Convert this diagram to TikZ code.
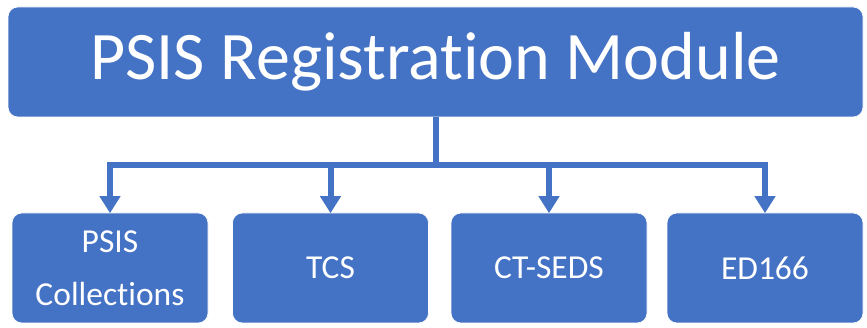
\documentclass[tikz,border=0pt]{standalone}
\usepackage{fontspec}
\setmainfont[Ligatures=NoCommon]{Carlito}
\usetikzlibrary{arrows.meta}
\definecolor{psisblue}{HTML}{4472C4}

\begin{document}
\begin{tikzpicture}[x=1pt, y=-1pt,
	module/.style={fill=psisblue, draw=white, line width=0.6pt, rounded corners=10pt,
		text=white, align=center, inner sep=0pt},
	feed/.style={draw=psisblue, line width=6pt},
	]
	\def\boxw{196};
	\def\boxh{110};

	\useasboundingbox (0,0) rectangle (867,328);

	\node[module, minimum width=855pt, minimum height=110pt,
		font=\fontsize{68}{80}\selectfont] (top) at (435.5,62) {PSIS Registration Module};

	\begin{scope}[every node/.style={module, minimum width=\boxw pt, minimum height=\boxh pt,
			font=\fontsize{33.5}{53}\selectfont}]
		\node (coll) at (110,268) {PSIS\\Collections};
		\node (tcs) at (330.5,268) {TCS};
		\node (seds) at (549,268) {CT-SEDS};
		\node (ed) at (765,268) {ED166};
	\end{scope}

	\coordinate (bus) at (436,165);

	\draw[feed] (top.south -| bus) -- (bus);
	\begin{scope}[feed, -{Triangle[width=20pt, length=17pt]}, shorten >=-0.5pt]
		\foreach \t in {coll, tcs, seds, ed}
		{
			\draw (bus) -| (\t.north);
		}
	\end{scope}
\end{tikzpicture}
\end{document}
